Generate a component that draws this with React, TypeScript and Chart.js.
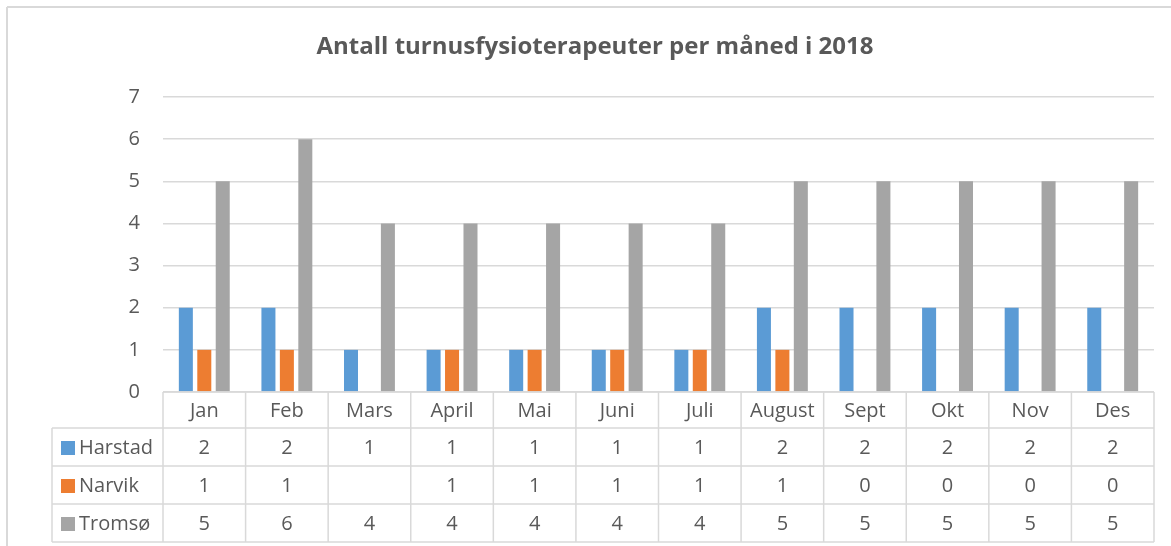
import React, { useEffect, useRef } from "react";
import { Chart, registerables } from "chart.js";

Chart.register(...registerables);

const TITLE = "Antall turnusfysioterapeuter per måned i 2018";
const months = ["Jan", "Feb", "Mars", "April", "Mai", "Juni", "Juli", "August", "Sept", "Okt", "Nov", "Des"];
const seriesNames = ["Harstad", "Narvik", "Tromsø"];
const harstad: (number | null)[] = [2, 2, 1, 1, 1, 1, 1, 2, 2, 2, 2, 2];
const narvik: (number | null)[] = [1, 1, null, 1, 1, 1, 1, 1, 0, 0, 0, 0];
const tromso: (number | null)[] = [5, 6, 4, 4, 4, 4, 4, 5, 5, 5, 5, 5];
const colors = ["#5B9BD5", "#ED7D31", "#A5A5A5"];

const FONT = "'Open Sans', 'Noto Sans', sans-serif";
const TEXT = "#595959";
const LINE = "#D9D9D9";

const tablePlugin = {
  id: "excelTable",
  afterDraw(chart: any) {
    const ctx = chart.ctx as CanvasRenderingContext2D;
    const area = chart.chartArea;
    const xs = chart.scales.x;
    const n = months.length;
    const catW = (area.right - area.left) / n;
    const top = area.bottom;
    const rowH = [36, 38, 38, 38];
    const rowsY = [top];
    rowH.forEach((h) => rowsY.push(rowsY[rowsY.length - 1] + h));
    const legendLeft = 52;

    ctx.save();
    // frame
    ctx.strokeStyle = LINE;
    ctx.lineWidth = 2;
    ctx.beginPath();
    ctx.moveTo(7, 7);
    ctx.lineTo(chart.width, 7);
    ctx.moveTo(7, 7);
    ctx.lineTo(7, chart.height);
    ctx.stroke();

    // title
    ctx.fillStyle = TEXT;
    ctx.font = `bold 24px ${FONT}`;
    ctx.textAlign = "center";
    ctx.textBaseline = "middle";
    ctx.fillText(TITLE, 595, 47);

    // table lines
    ctx.strokeStyle = LINE;
    ctx.lineWidth = 1.5;
    ctx.beginPath();
    ctx.moveTo(area.left, rowsY[0]);
    ctx.lineTo(area.right, rowsY[0]);
    for (let r = 1; r < rowsY.length; r++) {
      ctx.moveTo(legendLeft, rowsY[r]);
      ctx.lineTo(area.right, rowsY[r]);
    }
    for (let i = 0; i <= n; i++) {
      const x = area.left + i * catW;
      ctx.moveTo(x, rowsY[0]);
      ctx.lineTo(x, rowsY[rowsY.length - 1]);
    }
    ctx.moveTo(legendLeft, rowsY[1]);
    ctx.lineTo(legendLeft, rowsY[rowsY.length - 1]);
    ctx.stroke();

    // header labels
    ctx.font = `20px ${FONT}`;
    ctx.fillStyle = TEXT;
    ctx.textAlign = "center";
    months.forEach((m, i) => {
      const cx = xs.getPixelForValue(i);
      ctx.fillText(m, cx, (rowsY[0] + rowsY[1]) / 2 + 1);
    });

    // rows
    const data = [harstad, narvik, tromso];
    data.forEach((arr, r) => {
      const cy = (rowsY[r + 1] + rowsY[r + 2]) / 2 + 1;
      ctx.fillStyle = colors[r];
      ctx.fillRect(61, cy - 7, 14, 14);
      ctx.fillStyle = TEXT;
      ctx.textAlign = "left";
      ctx.fillText(seriesNames[r], 79, cy);
      ctx.textAlign = "center";
      arr.forEach((v, i) => {
        if (v === null || v === undefined) return;
        ctx.fillText(String(v), xs.getPixelForValue(i), cy);
      });
    });
    ctx.restore();
  },
};

export default function App() {
  const ref = useRef<HTMLCanvasElement>(null);
  useEffect(() => {
    if (!ref.current) return;
    const chart = new Chart(ref.current, {
      type: "bar",
      data: {
        labels: months,
        datasets: [harstad, narvik, tromso].map((d, i) => ({
          label: seriesNames[i],
          data: d,
          backgroundColor: colors[i],
          borderWidth: 0,
          categoryPercentage: 0.67,
          barPercentage: 0.76,
        })),
      },
      options: {
        animation: false,
        responsive: false,
        maintainAspectRatio: false,
        layout: { padding: { top: 97, right: 17, bottom: 154, left: 0 } },
        plugins: {
          legend: { display: false },
          title: { display: false },
          tooltip: { enabled: false },
        },
        scales: {
          x: {
            grid: { display: false },
            border: { display: false },
            ticks: { display: false },
            afterFit: (s: any) => {
              s.height = 0;
            },
          },
          y: {
            min: 0,
            max: 7,
            ticks: {
              stepSize: 1,
              color: TEXT,
              font: { family: FONT, size: 20 },
              padding: 23,
            },
            grid: { color: LINE, lineWidth: 1.5, drawTicks: false },
            border: { display: false },
            afterFit: (s: any) => {
              s.width = 163;
            },
          },
        },
      },
      plugins: [tablePlugin],
    });
    return () => chart.destroy();
  }, []);
  return (
    <div style={{ position: "fixed", left: 0, top: 0, width: 1171, height: 546, background: "#fff" }}>
      <canvas ref={ref} width={1171} height={546} style={{ width: 1171, height: 546 }} />
    </div>
  );
}
